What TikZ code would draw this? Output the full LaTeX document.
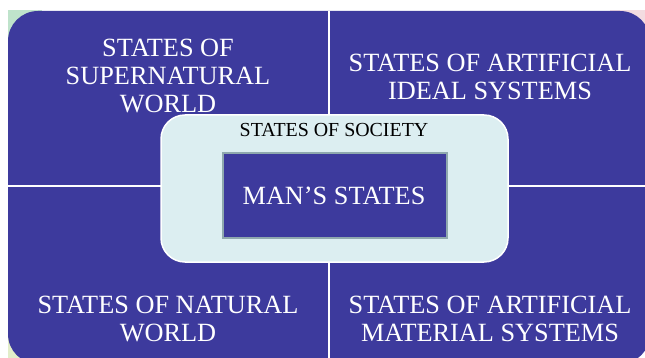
\documentclass[tikz,border=0pt]{standalone}
\usepackage{fontspec}
\setmainfont{Liberation Serif}
\definecolor{qblue}{HTML}{3D3A9D}
\definecolor{socfill}{HTML}{DCEEF1}
\definecolor{manedge}{HTML}{8FA8AE}
\definecolor{cgreen}{HTML}{BFE3CB}
\definecolor{cpink}{HTML}{F3DCE1}
\definecolor{cyellow}{HTML}{E2EDC9}
\tikzset{
  bigtxt/.style={font=\fontsize{26.3}{28}\selectfont, text=white, align=center, inner sep=0pt, anchor=base},
  soctxt/.style={font=\fontsize{19.9}{22}\selectfont, text=black, inner sep=0pt, anchor=base},
  divider/.style={draw=white, line width=2pt}
}
\begin{document}
\begin{tikzpicture}[x=1pt,y=-1pt]
\useasboundingbox (0,0) rectangle (645,358);
\fill[white] (0,0) rectangle (645,358);
% background corner tints
\fill[cgreen] (8,10) rectangle (42,44);
\fill[cpink] (610,10) rectangle (645,44);
\fill[cyellow] (8,325) rectangle (42,358);
% outer quadrant shape
\fill[qblue, rounded corners=30pt] (8,11) rectangle (650,364);
% dividers
\coordinate (vtop) at (329,11);
\coordinate (vbot) at (329,358);
\coordinate (hleft) at (8,186);
\coordinate (hright) at (645,186);
\draw[divider] (vtop) -- (vbot);
\draw[divider] (hleft) -- (hright);
% quadrant texts (base anchor = last line)
\node[bigtxt] (tl) at (168,113) {STATES OF\\SUPERNATURAL\\WORLD};
\node[bigtxt] (tr) at (490,100) {STATES OF ARTIFICIAL\\IDEAL SYSTEMS};
\node[bigtxt] (bl) at (168,341) {STATES OF NATURAL\\WORLD};
\node[bigtxt] (br) at (490,341) {STATES OF ARTIFICIAL\\MATERIAL SYSTEMS};
% society box
\draw[fill=socfill, draw=white, line width=1.5pt, rounded corners=24pt] (161,115) rectangle (508,262);
\node[soctxt] (soc) at (334,137) {STATES OF SOCIETY};
% man box
\draw[fill=qblue, draw=manedge, line width=1.5pt] (223,153) rectangle (447,238);
\node[bigtxt] (man) at (334,205) {MAN’S STATES};
\end{tikzpicture}
\end{document}
